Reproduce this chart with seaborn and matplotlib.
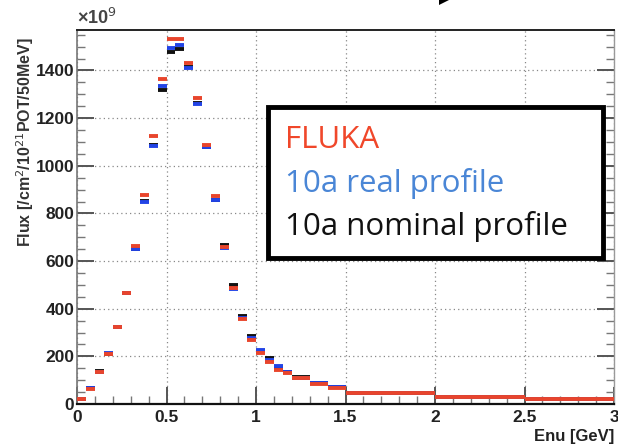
import numpy as np
import pandas as pd
import matplotlib
matplotlib.use("Agg")
import matplotlib.pyplot as plt
import seaborn as sns
from matplotlib.patches import Polygon, Rectangle

# bin edges (GeV)
bin_lo = [0.0, 0.05, 0.10, 0.15, 0.20, 0.25, 0.30, 0.35, 0.40, 0.45,
          0.50, 0.55, 0.60, 0.65, 0.70, 0.75, 0.80, 0.85, 0.90, 0.95,
          1.00, 1.05, 1.10, 1.15, 1.20, 1.30, 1.40, 1.50, 2.00, 2.50]
bin_hi = [0.05, 0.10, 0.15, 0.20, 0.25, 0.30, 0.35, 0.40, 0.45, 0.50,
          0.55, 0.60, 0.65, 0.70, 0.75, 0.80, 0.85, 0.90, 0.95, 1.00,
          1.05, 1.10, 1.15, 1.20, 1.30, 1.40, 1.50, 2.00, 2.50, 3.00]
# flux values (x1e9)
fluka = [20, 64, 136, 210, 322, 464, 662, 877, 1126, 1364,
         1532, 1532, 1431, 1285, 1087, 873, 659, 485, 357, 269,
         216, 175, 143, 129, 108, 86, 69, 45, 29, 20]
real = [20, 69, 134, 212, 323, 468, 650, 850, 1084, 1333,
        1495, 1506, 1411, 1260, 1078, 855, 653, 484, 362, 276,
        227, 185, 159, 136, 111, 88, 72, 45, 29, 20]
nominal = [20, 68, 137, 211, 322, 467, 652, 852, 1086, 1320,
           1478, 1492, 1413, 1265, 1080, 857, 667, 499, 368, 285,
           224, 192, 157, 134, 112, 88, 71, 45, 29, 20]

series = {"FLUKA": fluka, "10a real profile": real, "10a nominal profile": nominal}
colors = {"FLUKA": "#e8452c", "10a real profile": "#2244e6", "10a nominal profile": "#111111"}

rows = []
for name, vals in series.items():
    for lo, hi, v in zip(bin_lo, bin_hi, vals):
        rows.append({"series": name, "lo": lo, "hi": hi, "flux": v})
df = pd.DataFrame(rows)

sns.set_style("ticks")
plt.rcParams["font.family"] = ["Liberation Sans", "DejaVu Sans"]

fig = plt.figure(figsize=(6.18, 4.45), dpi=100)
ax = fig.add_axes([77 / 618, 1 - 404 / 445, 537 / 618, 374 / 445])

# draw order: black first, then blue, then red (red sits on top)
for name in ["10a nominal profile", "10a real profile", "FLUKA"]:
    sub = df[df["series"] == name]
    ax.hlines(sub["flux"], sub["lo"], sub["hi"], colors=colors[name], linewidth=2.8, zorder=3)

ax.set_xlim(0, 3)
ax.set_ylim(0, 1570)
ax.set_xticks(np.arange(0, 3.01, 0.5))
ax.set_xticks(np.arange(0, 3.01, 0.1), minor=True)
ax.set_yticks(np.arange(0, 1401, 200))
ax.set_yticks(np.arange(0, 1551, 50), minor=True)
ax.set_xticklabels(["0", "0.5", "1", "1.5", "2", "2.5", "3"])
ax.grid(True, which="major", color="#888888", linestyle=(0, (1, 2.5)), linewidth=0.9)

for lab in ax.get_xticklabels() + ax.get_yticklabels():
    lab.set_fontweight("bold")
    lab.set_fontsize(12.5)
    lab.set_color("#222222")

ax.tick_params(axis="both", which="major", direction="in", length=12, width=1.4,
               color="#555555", right=True, top=False)
ax.tick_params(axis="both", which="minor", direction="in", length=6, width=1.0,
               color="#777777", right=True, top=False)
ax.tick_params(axis="x", which="major", pad=4)
ax.tick_params(axis="y", which="major", pad=2)

ax.spines["top"].set_linewidth(1.4)
ax.spines["top"].set_color("#222222")
ax.spines["bottom"].set_linewidth(1.6)
ax.spines["bottom"].set_color("#111111")
ax.spines["left"].set_color("#777777")
ax.spines["left"].set_linewidth(1.2)
ax.spines["right"].set_color("#999999")
ax.spines["right"].set_linewidth(1.0)

ax.set_ylabel("Flux [/cm$^{2}$/10$^{21}$POT/50MeV]", fontsize=11.5, fontweight="bold",
              color="#333333")
ax.yaxis.set_label_coords(-0.076, 0.70)
ax.set_xlabel("")
fig.text(614 / 618, 1 - 441 / 445, "Enu [GeV]", fontsize=12, fontweight="bold",
         color="#222222", ha="right", va="baseline")

fig.text(77 / 618, 1 - 24 / 445, "×10$^{9}$", fontsize=13, fontweight="bold",
         color="#444444", ha="left", va="baseline")

# legend box
fig.patches.append(Rectangle((268 / 618, 1 - 258 / 445), 335 / 618, 151 / 445,
                             transform=fig.transFigure, facecolor="white",
                             edgecolor="black", linewidth=3.5, zorder=5))
leg_y = [148, 192, 235]
leg_col = ["#f0472a", "#4a86d6", "#111111"]
for (name, yb, c) in zip(series.keys(), leg_y, leg_col):
    fig.text(285 / 618, 1 - yb / 445, name, fontsize=22.5, color=c,
             family=["Open Sans", "DejaVu Sans"],
             ha="left", va="baseline", zorder=6)

# fragment of arrow at the top
fig.patches.append(Polygon([(439 / 618, 1 - 5 / 445), (439 / 618, 1.0), (449 / 618, 1.0)],
                           closed=True, transform=fig.transFigure, facecolor="black",
                           edgecolor="none"))

fig.savefig("out.png", dpi=100)
